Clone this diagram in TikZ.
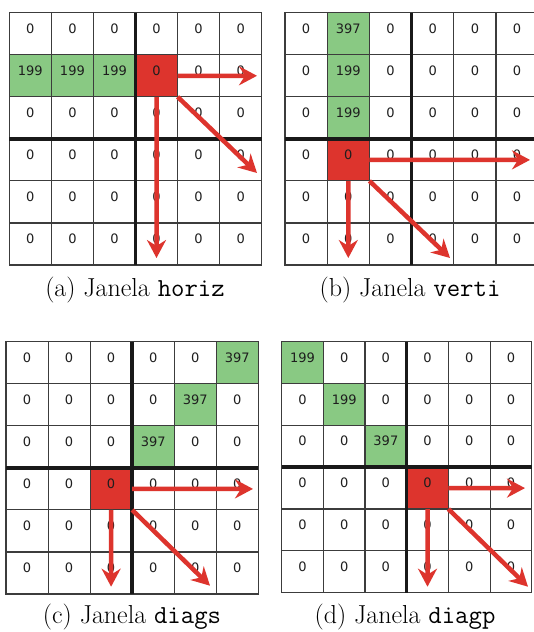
\documentclass[tikz,border=0pt]{standalone}
\usepackage{fontspec}
\newfontfamily\cellfont{DejaVu Sans}
\usetikzlibrary{arrows.meta}
\definecolor{cellgreen}{RGB}{137,201,131}
\definecolor{cellred}{RGB}{221,52,45}
\definecolor{gridgray}{RGB}{60,60,60}
\definecolor{numgray}{RGB}{30,30,30}
\newcommand\setgreen[4]{\expandafter\def\csname gv-#1-#2-#3\endcsname{#4}}
\newcommand\setred[3]{\expandafter\def\csname rv-#1-#2-#3\endcsname{}}
\newcommand\drawgrid[5]{%
  \foreach \r in {0,...,5}{\foreach \c in {0,...,5}{%
    \def\cellval{0}\def\cellfill{white}%
    \ifcsname gv-#1-\r-\c\endcsname
      \edef\cellval{\csname gv-#1-\r-\c\endcsname}\def\cellfill{cellgreen}\fi
    \ifcsname rv-#1-\r-\c\endcsname \def\cellfill{cellred}\fi
    \node[cell, fill=\cellfill, minimum width=#4pt, minimum height=#5pt]
      (#1-\r-\c) at ({#2+(\c+0.5)*#4},{#3+(\r+0.5)*#5}) {\cellval};
  }}}
\setgreen{a}{1}{0}{199}\setgreen{a}{1}{1}{199}\setgreen{a}{1}{2}{199}\setred{a}{1}{3}
\setgreen{b}{0}{1}{397}\setgreen{b}{1}{1}{199}\setgreen{b}{2}{1}{199}\setred{b}{3}{1}
\setgreen{c}{0}{5}{397}\setgreen{c}{1}{4}{397}\setgreen{c}{2}{3}{397}\setred{c}{3}{2}
\setgreen{d}{0}{0}{199}\setgreen{d}{1}{1}{199}\setgreen{d}{2}{2}{397}\setred{d}{3}{3}
\tikzset{
  cell/.style={draw=gridgray, line width=1.1pt, inner sep=0pt, outer sep=0pt,
    font=\cellfont\fontsize{13}{15}\selectfont, text=numgray,
    text height=9.5pt, text depth=10.4pt},
  thickline/.style={draw=black!90, line width=3.5pt},
  redarrow/.style={draw=cellred, line width=4.5pt,
    -{Stealth[length=18pt,width=19pt,inset=6pt]}},
  caption/.style={font=\fontsize{26}{30}\selectfont, inner sep=0pt}
}
\begin{document}
\begin{tikzpicture}[x=1pt,y=-1pt]
\path[fill=white, use as bounding box] (0,0) rectangle (533,632);
% grids
\drawgrid{a}{9.3}{12.7}{42.07}{42.05}
\drawgrid{b}{285}{12.7}{42.2}{42.05}
\drawgrid{c}{6}{341.7}{42.05}{42.05}
\drawgrid{d}{281.7}{341.7}{41.67}{41.83}
% thick lines
\foreach \g in {a,b,c,d}{
  \draw[thickline] (\g-0-3.north west) -- (\g-5-3.south west);
  \draw[thickline] (\g-3-0.north west) -- (\g-3-5.north east);
}
% arrow end points
\coordinate (a-h) at (257,75.8);
\coordinate (a-v) at (156.5,258);
\coordinate (a-d) at (257,173);
\coordinate (b-h) at (530,159.9);
\coordinate (b-v) at (348.3,258);
\coordinate (b-d) at (450,258);
\coordinate (c-h) at (253,488.9);
\coordinate (c-v) at (111.1,586.7);
\coordinate (c-d) at (210,585.7);
\coordinate (d-h) at (525,488.1);
\coordinate (d-v) at (427.5,586.7);
\coordinate (d-d) at (528,586.7);
% arrows
\draw[redarrow] (a-1-3.east) -- (a-h);
\draw[redarrow] (a-1-3.south) -- (a-v);
\draw[redarrow] (a-1-3.south east) -- (a-d);
\draw[redarrow] (b-3-1.east) -- (b-h);
\draw[redarrow] (b-3-1.south) -- (b-v);
\draw[redarrow] (b-3-1.south east) -- (b-d);
\draw[redarrow] (c-3-2.east) -- (c-h);
\draw[redarrow] (c-3-2.south) -- (c-v);
\draw[redarrow] (c-3-2.south east) -- (c-d);
\draw[redarrow] (d-3-3.east) -- (d-h);
\draw[redarrow] (d-3-3.south) -- (d-v);
\draw[redarrow] (d-3-3.south east) -- (d-d);
% captions
\node[caption] (capa) at (135,290.5) {(a) Janela \texttt{horiz}};
\node[caption] (capb) at (410,290.5) {(b) Janela \texttt{verti}};
\node[caption] (capc) at (132,617.5) {(c) Janela \texttt{diags}};
\node[caption] (capd) at (405,617.5) {(d) Janela \texttt{diagp}};
\end{tikzpicture}
\end{document}
